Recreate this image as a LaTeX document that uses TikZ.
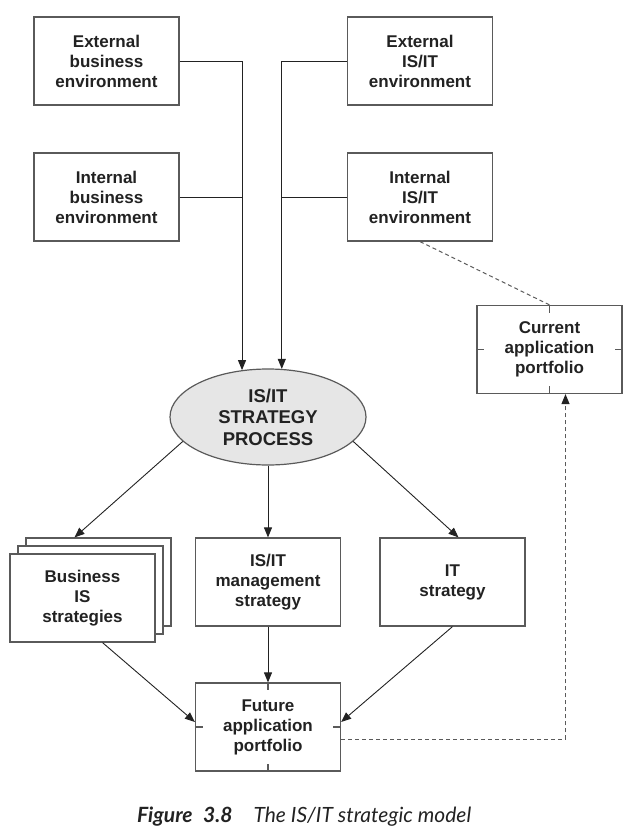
\documentclass[tikz,border=0pt]{standalone}
\usepackage{fontspec}
\setmainfont{Liberation Sans}
\newfontfamily\capfont{Lato}
\usetikzlibrary{arrows.meta,shapes.geometric}

\definecolor{edgegray}{HTML}{5A5A5A}
\definecolor{ovalfill}{HTML}{E6E6E6}
\definecolor{inkgray}{HTML}{222222}

\tikzset{
  envbox/.style={rectangle,draw=edgegray,line width=1.2pt,fill=white,
    minimum width=145pt,minimum height=88pt,align=center,text=inkgray,
    font=\fontsize{17}{20}\selectfont\bfseries,inner sep=0pt},
  procoval/.style={ellipse,draw=edgegray,line width=1.2pt,fill=ovalfill,
    minimum width=196pt,minimum height=96pt,align=center,text=inkgray,
    font=\fontsize{18.5}{21.5}\selectfont\bfseries,inner sep=0pt},
  flow/.style={draw=inkgray,line width=0.9pt,-{Triangle[length=10pt,width=8pt]}},
  link/.style={draw=inkgray,line width=0.9pt},
  dashlink/.style={draw=edgegray,line width=1pt,dash pattern=on 4pt off 3pt}
}

\begin{document}
\begin{tikzpicture}[x=1pt,y=-1pt]

      \useasboundingbox (0,0) rectangle (640,837);

      \begin{scope}[every node/.style={envbox}]
        \node (extbus)  at (106.5,61)  {External\\business\\environment};
        \node (intbus)  at (106.5,197) {Internal\\business\\environment};
        \node (extit)   at (420,61)    {External\\IS/IT\\environment};
        \node (intit)   at (420,197)   {Internal\\IS/IT\\environment};
        \node (cur)     at (549.5,349.5) {Current\\application\\portfolio};
        \node (bizback) at (98.5,582)  {};
        \node (bizmid)  at (90.5,590)  {};
        \node (bizfront) at (82.5,598) {Business\\IS\\strategies};
        \node (mgmt)    at (268,582)   {IS/IT\\management\\strategy};
        \node (itstr)   at (452.5,582) {IT\\strategy};
        \node (fut)     at (268,727)   {Future\\application\\portfolio};
      \end{scope}

      \node[procoval] (proc) at (268,417) {IS/IT\\STRATEGY\\PROCESS};

      % environment feeds
      \path[flow] (extbus.east) -| (proc.119);
      \path[link] (intbus.east) -- (intbus.east -| proc.119);
      \path[flow] (extit.west) -| (proc.74);
      \path[link] (intit.west) -- (intit.west -| proc.74);

      % strategy outputs
      \path[flow] (proc.196) -- ([xshift=-24pt]bizback.north);
      \path[flow] (proc.south) -- (mgmt.north);
      \path[flow] (proc.344) -- ([xshift=6pt]itstr.north);
      \path[flow] ([xshift=20pt]bizfront.south) -- ([yshift=5pt]fut.west);
      \path[flow] (mgmt.south) -- (fut.north);
      \path[flow] (itstr.south) -- ([yshift=5pt]fut.east);

      % portfolio links
      \path[dashlink] (intit.south) -- (cur.north);
      \path[dashlink,-{Triangle[length=10pt,width=8pt,color=inkgray]}]
        ([yshift=-12pt]fut.east) -| ([xshift=16pt]cur.south);

      % side ticks
      \foreach \n in {cur,fut} {
        \draw[edgegray,line width=1.2pt] (\n.north) -- ++(0,8);
        \draw[edgegray,line width=1.2pt] (\n.south) -- ++(0,-8);
        \draw[edgegray,line width=1.2pt] (\n.west) -- ++(8,0);
        \draw[edgegray,line width=1.2pt] (\n.east) -- ++(-8,0);
      }

      \node[anchor=base west,inner sep=0pt,text=inkgray,
        font=\capfont\fontsize{21}{24}\selectfont\itshape] (caption) at (137,822)
        {\textbf{Figure\enspace 3.8}\quad The IS/IT strategic model};

    \end{tikzpicture}
\end{document}
